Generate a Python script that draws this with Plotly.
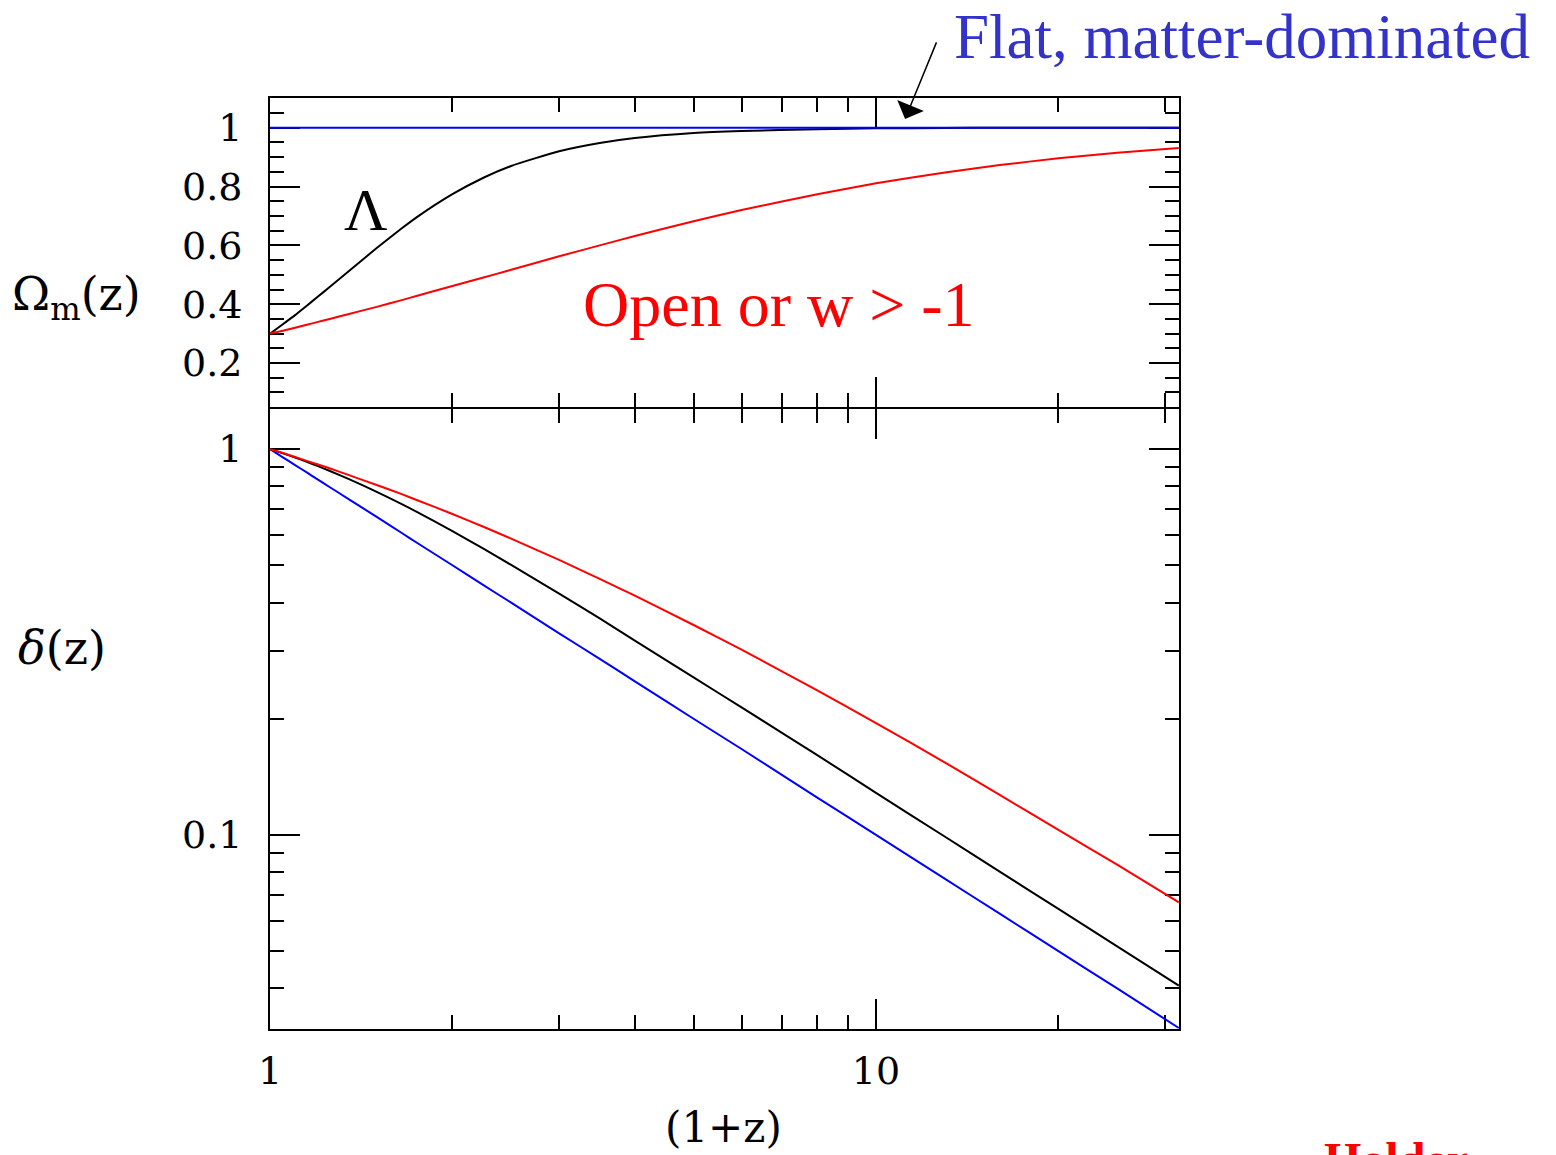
import plotly.graph_objects as go

# (1+z) sample points
one_plus_z = [1, 1.05, 1.1, 1.15, 1.2, 1.25, 1.35, 1.5, 1.65, 1.75, 2, 2.25, 2.5, 3, 3.5, 4,
              5, 6, 8, 10, 13, 16, 20, 25, 31.6]

# Top panel: Omega_m(z)
omega_flat_matter = [1.0] * len(one_plus_z)
omega_lambda = [0.300, 0.332, 0.363, 0.395, 0.426, 0.456, 0.513, 0.591, 0.658, 0.697,
                0.774, 0.830, 0.870, 0.920, 0.948, 0.965, 0.982, 0.989, 0.995, 0.998,
                0.999, 1.0, 1.0, 1.0, 1.0]
omega_open = [0.300, 0.310, 0.320, 0.330, 0.340, 0.349, 0.367, 0.391, 0.414, 0.429,
              0.462, 0.491, 0.517, 0.563, 0.600, 0.632, 0.682, 0.720, 0.774, 0.811,
              0.848, 0.873, 0.896, 0.915, 0.931]

# Bottom panel: delta(z)
delta_flat_matter = [1.0, 0.952, 0.909, 0.870, 0.833, 0.800, 0.741, 0.667, 0.606, 0.571,
                     0.500, 0.444, 0.400, 0.333, 0.286, 0.250, 0.200, 0.167, 0.125, 0.100,
                     0.0769, 0.0625, 0.050, 0.040, 0.0316]
delta_lambda = [1.0, 0.975, 0.951, 0.927, 0.903, 0.880, 0.836, 0.775, 0.720, 0.686,
                0.613, 0.552, 0.501, 0.422, 0.364, 0.319, 0.256, 0.214, 0.161, 0.1285,
                0.0989, 0.0803, 0.0643, 0.0514, 0.0407]
delta_open = [1.0, 0.977, 0.954, 0.932, 0.912, 0.893, 0.856, 0.807, 0.764, 0.737,
              0.679, 0.629, 0.586, 0.516, 0.461, 0.417, 0.350, 0.302, 0.237, 0.195,
              0.154, 0.127, 0.103, 0.0837, 0.0669]

top_major_vals = [0.2, 0.4, 0.6, 0.8, 1.0]
top_major_text = ["0.2", "0.4", "0.6", "0.8", "1"]
top_minor_vals = [0.05, 0.1, 0.15, 0.25, 0.3, 0.35, 0.45, 0.5, 0.55, 0.65, 0.7, 0.75,
                  0.85, 0.9, 0.95, 1.05]
bot_major_vals = [0.1, 1]
bot_major_text = ["0.1", "1"]
bot_minor_vals = [0.04, 0.05, 0.06, 0.07, 0.08, 0.09, 0.2, 0.3, 0.4, 0.5, 0.6, 0.7, 0.8, 0.9]
x_major_vals = [1, 10]
x_major_text = ["1", "10"]
x_minor_vals = [2, 3, 4, 5, 6, 7, 8, 9, 20, 30]

BLUE = "#0000ff"
RED = "#ff0000"
BLACK = "#000000"
TICKFONT = dict(family="DejaVu Serif", size=38, color="black")

fig = go.Figure()
for ys, col in [(omega_lambda, BLACK), (omega_open, RED), (omega_flat_matter, BLUE)]:
    fig.add_trace(go.Scatter(x=one_plus_z, y=ys, mode="lines", xaxis="x2", yaxis="y2",
                             line=dict(color=col, width=2, shape="spline", smoothing=0.5),
                             showlegend=False, hoverinfo="skip"))
for ys, col in [(delta_flat_matter, BLUE), (delta_lambda, BLACK), (delta_open, RED)]:
    fig.add_trace(go.Scatter(x=one_plus_z, y=ys, mode="lines", xaxis="x", yaxis="y",
                             line=dict(color=col, width=2, shape="spline", smoothing=0.5),
                             showlegend=False, hoverinfo="skip"))

common_x = dict(type="log", range=[0, 1.5], ticks="inside", mirror="ticks",
                showline=True, linecolor="black", linewidth=2, tickcolor="black",
                ticklen=30, tickwidth=2, tickvals=x_major_vals, ticktext=x_major_text,
                showgrid=False, zeroline=False, layer="below traces",
                minor=dict(tickvals=x_minor_vals, ticks="inside", ticklen=14,
                           tickwidth=2, tickcolor="black", showgrid=False))

fig.update_layout(
    width=1556, height=1155,
    margin=dict(l=270, r=377, t=98, b=126),
    paper_bgcolor="white", plot_bgcolor="white",
    xaxis=dict(common_x, anchor="y", domain=[0, 1], showticklabels=True,
               tickfont=TICKFONT, ticklabelstandoff=7),
    xaxis2=dict(common_x, anchor="y2", domain=[0, 1], showticklabels=False, matches="x"),
    yaxis=dict(type="log", range=[-1.503, 0.104], domain=[0, 0.666], anchor="x",
               ticks="inside", mirror="ticks", showline=True, linecolor="black",
               linewidth=2, tickcolor="black", ticklen=30, tickwidth=2,
               tickvals=bot_major_vals, ticktext=bot_major_text, tickfont=TICKFONT,
               ticklabelstandoff=18, showgrid=False, zeroline=False, layer="below traces",
               minor=dict(tickvals=bot_minor_vals, ticks="inside", ticklen=14,
                          tickwidth=2, tickcolor="black", showgrid=False)),
    yaxis2=dict(range=[0.051, 1.101], domain=[0.6682, 1], anchor="x2",
                ticks="inside", mirror="ticks", showline=True, linecolor="black",
                linewidth=2, tickcolor="black", ticklen=30, tickwidth=2,
                tickvals=top_major_vals, ticktext=top_major_text, tickfont=TICKFONT,
                ticklabelstandoff=18, showgrid=False, zeroline=False, layer="below traces",
                minor=dict(tickvals=top_minor_vals, ticks="inside", ticklen=14,
                           tickwidth=2, tickcolor="black", showgrid=False)),
)

ann = []
ann.append(dict(text="Flat, matter-dominated", xref="paper", yref="paper",
                x=0.7503, y=1.0655, xanchor="left", yanchor="middle", showarrow=False,
                font=dict(family="Liberation Serif", size=63, color="#3333cc")))
ann.append(dict(text="", xref="x2", yref="y2", x=1.048, y=1.03, ax=32, ay=-78,
                showarrow=True, arrowhead=1, arrowsize=3.2, arrowwidth=1.5,
                arrowcolor="black"))
ann.append(dict(text="Open or w > -1", xref="paper", yref="paper", x=0.560, y=0.7777,
                xanchor="center", yanchor="middle", showarrow=False,
                font=dict(family="Liberation Serif", size=64, color=RED)))
ann.append(dict(text="Λ", xref="paper", yref="paper", x=0.1056, y=0.8797,
                xanchor="center", yanchor="middle", showarrow=False,
                font=dict(family="Liberation Serif", size=60, color="black")))
ann.append(dict(text="Ω<sub>m</sub>(z)", xref="paper", yref="paper", x=-0.2134, y=0.786,
                xanchor="center", yanchor="middle", showarrow=False,
                font=dict(family="DejaVu Serif", size=46, color="black")))
ann.append(dict(text="<i>δ</i>(z)", xref="paper", yref="paper", x=-0.2288, y=0.409,
                xanchor="center", yanchor="middle", showarrow=False,
                font=dict(family="DejaVu Serif", size=46, color="black")))
ann.append(dict(text="(1+z)", xref="paper", yref="paper", x=0.4994, y=-0.1063,
                xanchor="center", yanchor="middle", showarrow=False,
                font=dict(family="DejaVu Serif", size=42, color="black")))
ann.append(dict(text="<b>Holder</b>", xref="paper", yref="paper", x=1.1573, y=-0.1095,
                xanchor="left", yanchor="top", showarrow=False,
                font=dict(family="Liberation Serif", size=48, color=RED)))
fig.update_layout(annotations=ann)

fig.write_html("out.html")
